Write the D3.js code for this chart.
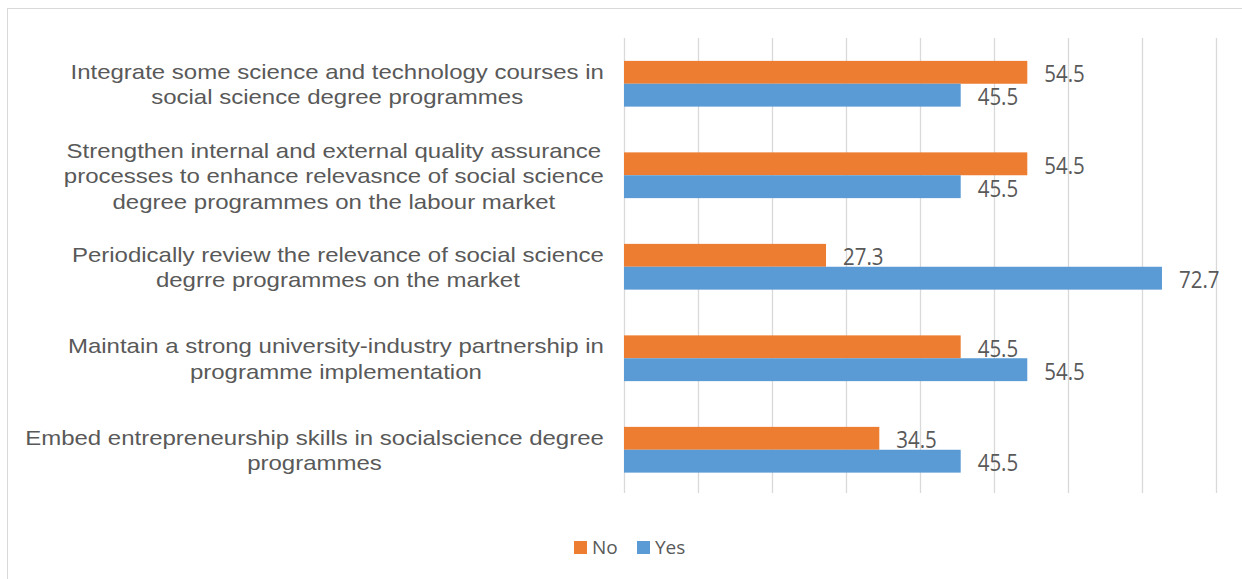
<!DOCTYPE html>
<html>
<head>
<meta charset="utf-8">
<script src="https://cdn.jsdelivr.net/npm/d3@7"></script>
<style>
  html, body { margin: 0; padding: 0; background: #fff; }
  svg { display: block; }
</style>
</head>
<body>
<svg id="chart" width="1242" height="579"></svg>
<script>
// Recommendations, each wrapped over the lines it is printed on
const categories = [
  ["Integrate some science and technology courses in", "social science degree programmes"],
  ["Strengthen internal and external quality assurance", "processes to enhance relevasnce of social science", "degree programmes on the labour market"],
  ["Periodically review the relevance of social science", "degrre programmes on the market"],
  ["Maintain a strong university-industry partnership in", "programme implementation"],
  ["Embed entrepreneurship skills in socialscience degree", "programmes"]
];
const seriesNames = ["No", "Yes"];
const noValues  = [54.5, 54.5, 27.3, 45.5, 34.5];
const yesValues = [45.5, 45.5, 72.7, 54.5, 45.5];
const xTicks = [0, 10, 20, 30, 40, 50, 60, 70, 80];

const colors = { "No": "#ED7D31", "Yes": "#5B9BD5" };

const svg = d3.select("#chart");

// Outer chart frame
svg.append("rect")
  .attr("x", 7.5).attr("y", 8.5)
  .attr("width", 1300).attr("height", 600)
  .attr("fill", "none").attr("stroke", "#d9d9d9").attr("stroke-width", 1);

const plotTop = 38, plotBottom = 495.5, plotLeft = 624, plotRight = 1216;

const x = d3.scaleLinear().domain([0, 80]).range([plotLeft, plotRight]);
const y0 = d3.scaleBand()
  .domain(d3.range(categories.length))
  .range([plotTop, plotBottom])
  .paddingInner(0.5).paddingOuter(0.25);
const y1 = d3.scaleBand().domain(seriesNames).range([0, y0.bandwidth()]);

// Vertical gridlines
const grid = svg.append("g")
  .attr("transform", `translate(0,${493})`)
  .call(d3.axisBottom(x).tickValues(xTicks).tickSize(-(493 - plotTop)).tickFormat(""));
grid.select(".domain").remove();
grid.selectAll(".tick line").attr("stroke", "#d9d9d9").attr("stroke-width", 1.3);

const rows = categories.map((c, i) => ({
  i, lines: c,
  vals: [{ s: "No", v: noValues[i] }, { s: "Yes", v: yesValues[i] }]
}));

const groups = svg.append("g").selectAll("g")
  .data(rows).join("g")
  .attr("transform", d => `translate(0,${y0(d.i)})`);

groups.selectAll("rect")
  .data(d => d.vals).join("rect")
  .attr("x", x(0))
  .attr("y", d => y1(d.s))
  .attr("width", d => x(d.v) - x(0))
  .attr("height", y1.bandwidth())
  .attr("fill", d => colors[d.s]);

// Value labels (narrow face)
groups.selectAll("text.val")
  .data(d => d.vals).join("text")
  .attr("class", "val")
  .attr("transform", d => `translate(${x(d.v) + 17},${y1(d.s) + y1.bandwidth() / 2 + 1}) scale(0.89,1)`)
  .attr("dominant-baseline", "central")
  .attr("font-family", "'Open Sans', sans-serif")
  .attr("font-size", 23)
  .attr("fill", "#595959")
  .text(d => d.v.toFixed(1));

// Category labels: each block is right-aligned against the axis,
// with its lines centred inside the block
const lineH = 25.5, labelScale = 1.2, labelRight = 604;
rows.forEach(d => {
  const top = y0(d.i) + y0.bandwidth() / 2 - (d.lines.length - 1) * lineH / 2 + 1;
  const texts = d.lines.map((line, k) =>
    svg.append("text")
      .attr("text-anchor", "middle")
      .attr("dominant-baseline", "central")
      .attr("font-family", "'Liberation Sans', Arial, sans-serif")
      .attr("font-size", 20)
      .attr("fill", "#595959")
      .text(line));
  const maxW = d3.max(texts, t => t.node().getComputedTextLength()) * labelScale;
  const cx = labelRight - maxW / 2;
  texts.forEach((t, k) =>
    t.attr("transform", `translate(${cx},${top + k * lineH}) scale(${labelScale},1)`));
});

// Legend
const legend = svg.append("g");
const legendItems = [{ s: "No", x: 574 }, { s: "Yes", x: 637 }];
legendItems.forEach(it => {
  legend.append("rect")
    .attr("x", it.x).attr("y", 541)
    .attr("width", 13).attr("height", 13)
    .attr("fill", colors[it.s]);
  legend.append("text")
    .attr("x", it.x + 18).attr("y", 547)
    .attr("dominant-baseline", "central")
    .attr("font-family", "'Open Sans', sans-serif")
    .attr("font-size", 19)
    .attr("fill", "#595959")
    .text(it.s);
});
</script>
</body>
</html>
